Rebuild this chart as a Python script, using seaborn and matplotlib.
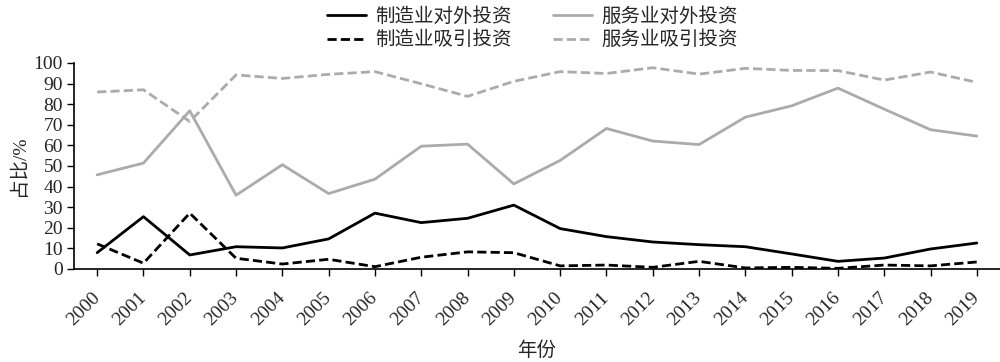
import pandas as pd
import matplotlib.pyplot as plt
import seaborn as sns

# Data
years = list(range(2000, 2020))
mfg_out = [7.9, 25.4, 6.8, 10.8, 10.2, 14.6, 27.1, 22.5, 24.6, 31.0,
           19.6, 15.7, 13.1, 11.8, 10.8, 7.3, 3.7, 5.3, 9.7, 12.6]
mfg_in = [12.2, 2.8, 27.1, 5.2, 2.4, 4.7, 1.1, 5.7, 8.3, 7.9,
          1.5, 1.9, 0.8, 3.7, 0.5, 0.8, 0.3, 1.9, 1.5, 3.4]
svc_out = [45.7, 51.4, 76.8, 35.8, 50.6, 36.6, 43.6, 59.6, 60.6, 41.3,
           52.7, 68.2, 62.1, 60.4, 73.7, 79.2, 87.8, 77.6, 67.6, 64.5]
svc_in = [85.9, 87.0, 71.6, 94.2, 92.5, 94.5, 95.8, 89.9, 83.8, 91.1,
          95.8, 94.9, 97.7, 94.6, 97.4, 96.4, 96.3, 91.7, 95.6, 90.6]

sns.set_theme(style="ticks")
plt.rcParams['font.family'] = ['Liberation Serif', 'Noto Sans CJK SC', 'DejaVu Sans']
plt.rcParams['axes.unicode_minus'] = False

fig = plt.figure(figsize=(10, 3.62), dpi=100)
ax = fig.add_axes([0.074, 0.257, 0.926, 0.569])

gray = '#ababab'
dash = (0, (3.3, 1.5))
# order so the 2-column legend reads: mfg | svc
series = [
    ('制造业对外投资', mfg_out, 'black', '-'),
    ('制造业吸引投资', mfg_in, 'black', dash),
    ('服务业对外投资', svc_out, gray, '-'),
    ('服务业吸引投资', svc_in, gray, dash),
]
for name, vals, col, ls in series:
    sns.lineplot(x=years, y=vals, ax=ax, color=col, linestyle=ls,
                 linewidth=2.0, label=name)

ax.set_xlim(1999.5, 2019.5)
ax.set_ylim(0, 100)
ax.set_yticks(range(0, 101, 10))
ax.set_xticks(years)
ax.set_xticklabels([str(y) for y in years], rotation=45, ha='right',
                   va='center', rotation_mode='anchor', fontsize=14)
ax.tick_params(axis='y', labelsize=14, length=5, width=1, color='black', pad=3)
ax.tick_params(axis='x', length=5, width=1, color='black', pad=14)
for s in ['left', 'bottom']:
    ax.spines[s].set_color('black')
    ax.spines[s].set_linewidth(1.2)
sns.despine(ax=ax)

ax.set_xlabel('年份', fontsize=14, labelpad=9)
ax.set_ylabel('占比/%', fontsize=14, labelpad=4)

ax.legend(ncol=2, loc='lower center', bbox_to_anchor=(0.495, 1.0),
          frameon=False, fontsize=14, handlelength=2.0, handletextpad=0.5,
          columnspacing=2.1, labelspacing=0.25, borderaxespad=0.3)

plt.savefig('out.png', dpi=100)
